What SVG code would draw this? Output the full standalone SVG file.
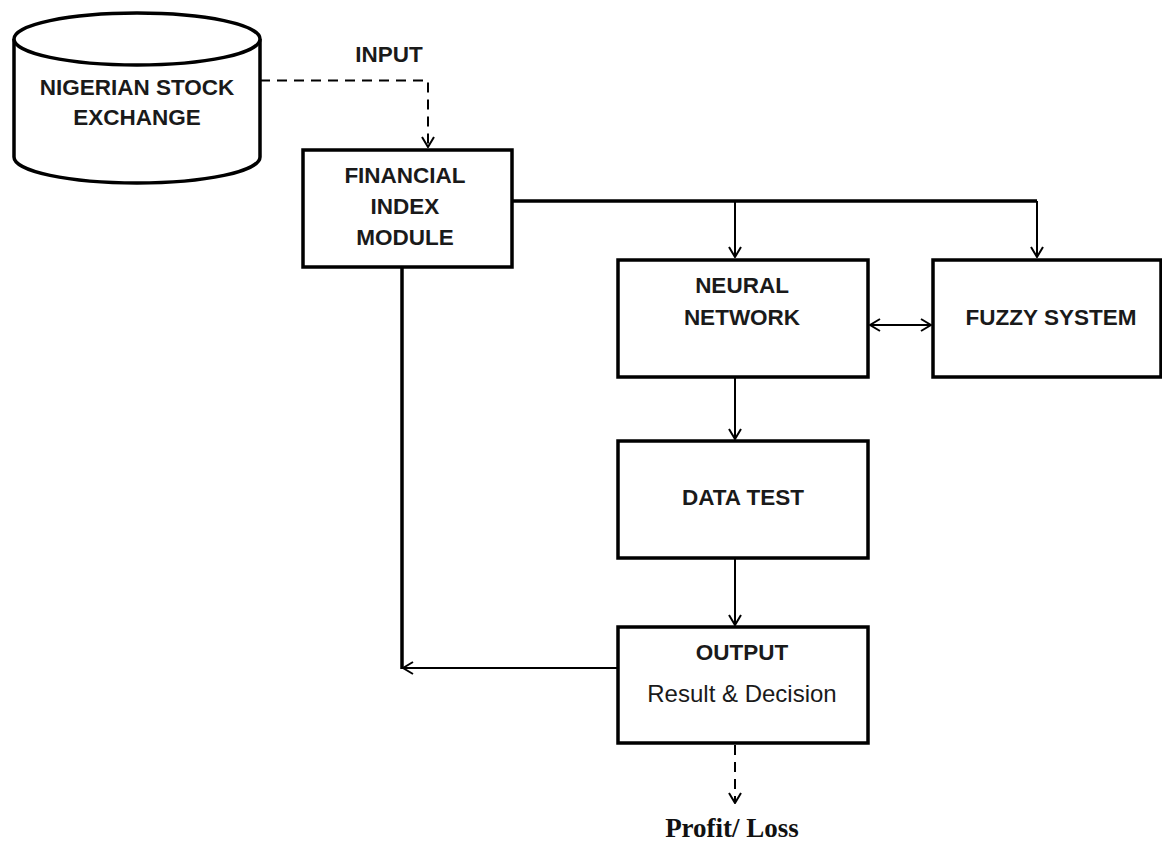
<svg xmlns="http://www.w3.org/2000/svg" width="1162" height="841" viewBox="0 0 1162 841">
<style>
.box{fill:#fff;stroke:#000;stroke-width:3.5}
.t{font-family:"Liberation Sans",Arial,sans-serif;font-weight:bold;font-size:22.5px;fill:#1a1a1a;text-anchor:middle}
.r{font-family:"Liberation Sans",Arial,sans-serif;font-size:24px;fill:#1a1a1a;text-anchor:middle}
.s{font-family:"Liberation Serif","Times New Roman",serif;font-weight:bold;font-size:27px;fill:#111;text-anchor:middle}
.ln{fill:none;stroke:#000;stroke-width:2}
.thk{fill:none;stroke:#000;stroke-width:3.5}
.dash{fill:none;stroke:#000;stroke-width:2;stroke-dasharray:10 7}
</style>
<defs>
<marker id="a" viewBox="0 0 12 14" refX="11" refY="7" markerWidth="12" markerHeight="14" markerUnits="userSpaceOnUse" orient="auto-start-reverse">
<path d="M1,1 L11,7 L1,13" fill="none" stroke="#000" stroke-width="2"/>
</marker>
</defs>
<rect width="1162" height="841" fill="#fff"/>
<g id="connectors">
<path class="dash" d="M260,80.5 H428 V147" marker-end="url(#a)"/>
<path class="thk" d="M512,201 H1037"/>
<path class="ln" d="M735,201 V257" marker-end="url(#a)"/>
<path class="ln" d="M1037,201 V257" marker-end="url(#a)"/>
<path class="ln" d="M870,325 H931" marker-start="url(#a)" marker-end="url(#a)"/>
<path class="ln" d="M735,377 V439" marker-end="url(#a)"/>
<path class="ln" d="M735,558 V625" marker-end="url(#a)"/>
<path class="thk" d="M402,267 V669"/>
<path class="ln" d="M617,668 H403" marker-end="url(#a)"/>
<path class="dash" d="M735,745 V803" marker-end="url(#a)"/>
</g>
<g id="nse">
<path d="M14,39 V157 A123,26 0 0 0 260,157 V39" fill="#fff" stroke="#000" stroke-width="3.5"/>
<ellipse cx="137" cy="39" rx="123" ry="26" fill="#fff" stroke="#000" stroke-width="3.5"/>
<text class="t" x="137" y="95">NIGERIAN STOCK</text>
<text class="t" x="137" y="125">EXCHANGE</text>
</g>
<g id="input-label">
<text class="t" x="389" y="62">INPUT</text>
</g>
<g id="financial">
<rect class="box" x="303" y="150" width="209" height="117"/>
<text class="t" x="405" y="183">FINANCIAL</text>
<text class="t" x="405" y="214">INDEX</text>
<text class="t" x="405" y="245">MODULE</text>
</g>
<g id="neural">
<rect class="box" x="618" y="260" width="250" height="117"/>
<text class="t" x="742" y="293">NEURAL</text>
<text class="t" x="742" y="325">NETWORK</text>
</g>
<g id="fuzzy">
<rect class="box" x="933" y="260" width="228" height="117"/>
<text class="t" x="1051" y="325">FUZZY SYSTEM</text>
</g>
<g id="datatest">
<rect class="box" x="618" y="441" width="250" height="117"/>
<text class="t" x="743" y="505">DATA TEST</text>
</g>
<g id="output">
<rect class="box" x="618" y="627" width="250" height="116"/>
<text class="t" x="742" y="660">OUTPUT</text>
<text class="r" x="742" y="702">Result &amp; Decision</text>
</g>
<g id="profit-label">
<text class="s" x="732" y="837">Profit/ Loss</text>
</g>
</svg>
